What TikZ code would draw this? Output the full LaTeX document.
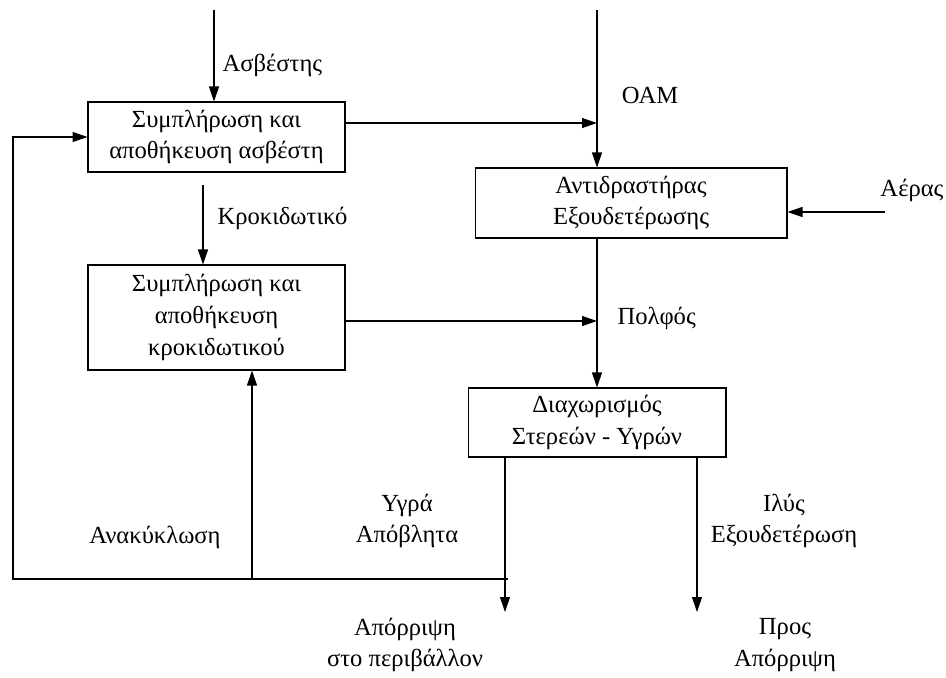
\documentclass[tikz,border=0pt]{standalone}
\usepackage{fontspec}
\setmainfont{Liberation Serif}
\usetikzlibrary{calc,positioning,arrows.meta}

\begin{document}
\begin{tikzpicture}[x=0.02cm,y=-0.02cm,>={Triangle[length=3mm,width=2mm]},
  font=\fontsize{14}{18}\selectfont,line width=0.6pt,
  unit/.style={draw,align=center,inner sep=0pt},
  lbl/.style={align=center,inner sep=0pt}]
  \useasboundingbox (0,0) rectangle (946,677);
  % --- units ---
  \node[unit,minimum width=5.14cm,minimum height=1.4cm] (lime) at (216.5,137) {Συμπλήρωση και\\αποθήκευση ασβέστη};
  \node[unit,minimum width=5.14cm,minimum height=2.1cm] (floc) at (216.5,317.5) {Συμπλήρωση και\\αποθήκευση\\κροκιδωτικού};
  \node[unit,minimum width=6.24cm,minimum height=1.4cm] (reac) at (631,203) {Αντιδραστήρας\\Εξουδετέρωσης};
  \node[unit,minimum width=5.16cm,minimum height=1.38cm] (sep) at (597,422.5) {Διαχωρισμός\\Στερεών - Υγρών};
  % --- free ends ---
  \coordinate (limeTop) at (214,10);
  \coordinate (oamTop) at (597,10);
  \coordinate (limeOut) at (597,123);
  \coordinate (flocTop) at (203,185);
  \coordinate (flocOut) at (597,321);
  \coordinate (airIn) at (885,212);
  \coordinate (liqOut) at (505,612);
  \coordinate (sludgeOut) at (697,612);
  \coordinate (recL) at (13,579);
  \coordinate (recR) at (508,579);
  \coordinate (recUp) at (252,579);
  % --- flows ---
  \draw[->] (limeTop) -- (limeTop |- lime.north);
  \draw[->] (oamTop) -- (oamTop |- reac.north);
  \draw[->] (lime.east |- limeOut) -- (limeOut);
  \draw[->] (flocTop) -- (flocTop |- floc.north);
  \draw[->] (floc.east |- flocOut) -- (flocOut);
  \draw[->] (airIn) -- (airIn -| reac.east);
  \draw[->] (oamTop |- reac.south) -- (oamTop |- sep.north);
  \draw[->] (liqOut |- sep.south) -- (liqOut);
  \draw[->] (sludgeOut |- sep.south) -- (sludgeOut);
  \draw[->] (recR) -- (recL) |- (lime.west);
  \draw[->] (recUp) -- (recUp |- floc.south);
  % --- labels ---
  \node[lbl,anchor=west] (limeLbl) at (222,65) {Ασβέστης};
  \node[lbl] (oamLbl) at (650,95) {ΟΑΜ};
  \node[lbl,anchor=east] (airLbl) at (944,190) {Αέρας};
  \node[lbl,anchor=west] (flocLbl) at (217,218) {Κροκιδωτικό};
  \node[lbl,anchor=west] (slurryLbl) at (617,318) {Πολφός};
  \node[lbl] (recLbl) at (155,537) {Ανακύκλωση};
  \node[lbl] (liqLbl) at (407,521) {Υγρά\\Απόβλητα};
  \node[lbl] (sludgeLbl) at (784,521) {Ιλύς\\Εξουδετέρωση};
  \node[lbl] (envLbl) at (405,645) {Απόρριψη\\στο περιβάλλον};
  \node[lbl] (dispLbl) at (785,645) {Προς\\Απόρριψη};
\end{tikzpicture}
\end{document}
